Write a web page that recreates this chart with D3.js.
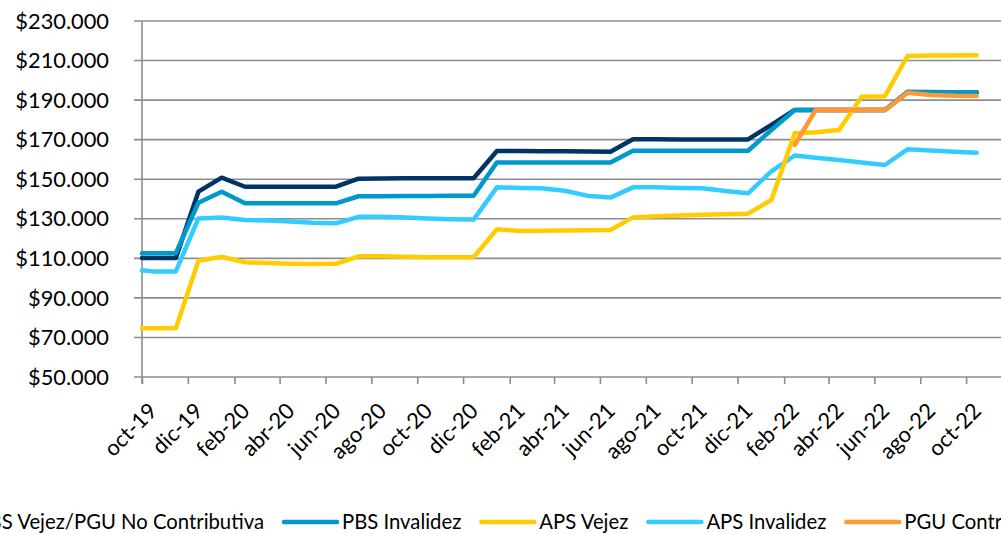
<!DOCTYPE html>
<html>
<head>
<meta charset="utf-8">
<script src="https://cdn.jsdelivr.net/npm/d3@7"></script>
<style>
body { margin: 0; background: #fff; overflow: hidden; }
svg text { font-family: Lato, "Open Sans", sans-serif; fill: #000; }
</style>
</head>
<body>
<script>
const width = 1001, height = 534;

// first point sits on 1 oct 2019, then one point per month (mid-month), oct-19 .. oct-22
const startDate = new Date(2019, 9, 1);
const monthStarts = d3.timeMonth.range(new Date(2019, 9, 1), new Date(2022, 10, 1));
const dates = [startDate].concat(monthStarts.map(d => d3.timeDay.offset(d, 14)));

// values in thousands of pesos
const pbsVejez = [110.2, 110.2, 110.2, 143.7, 150.8, 146.2, 146.2, 146.2, 146.2, 146.2,
  150.3, 150.4, 150.5, 150.5, 150.5, 150.5, 164.3, 164.3, 164.2, 164.1, 164.0, 163.9,
  170.2, 170.2, 170.1, 170.1, 170.1, 170.1, 177.5, 185.0, 185.0, 185.0, 185.0, 185.0,
  193.9, 193.9, 193.9, 193.9];
const pbsInvalidez = [112.6, 112.6, 112.6, 138.1, 143.7, 137.8, 137.8, 137.8, 137.8, 137.8,
  141.4, 141.4, 141.5, 141.5, 141.6, 141.6, 158.5, 158.5, 158.5, 158.5, 158.5, 158.5,
  164.4, 164.4, 164.4, 164.4, 164.4, 164.4, 174.9, 185.0, 185.0, 185.0, 185.0, 185.0,
  194.2, 194.1, 194.0, 194.0];
const apsVejez = [74.6, 74.6, 74.6, 108.8, 110.8, 108.0, 107.6, 107.3, 107.1, 107.2,
  111.0, 111.0, 110.8, 110.6, 110.6, 110.6, 124.7, 123.8, 124.0, 124.1, 124.2, 124.3,
  130.7, 131.3, 131.7, 132.0, 132.3, 132.6, 139.5, 173.2, 173.7, 174.9, 191.7, 192.0,
  212.3, 212.5, 212.6, 212.7];
const apsInvalidez = [104.0, 103.4, 103.4, 130.2, 130.7, 129.4, 129.1, 128.6, 128.0, 127.7,
  131.0, 131.0, 130.7, 130.2, 129.8, 129.6, 145.9, 145.6, 145.4, 144.2, 141.7, 140.7,
  145.9, 145.9, 145.6, 145.4, 144.1, 142.9, 154.0, 162.0, 160.9, 159.7, 158.5, 157.2,
  165.1, 164.5, 163.9, 163.4];
const pguContributiva = [null, null, null, null, null, null, null, null, null, null,
  null, null, null, null, null, null, null, null, null, null, null, null,
  null, null, null, null, null, null, null, 167.3, 185.0, 185.0, 185.0, 185.0,
  193.7, 192.6, 192.2, 192.1];

const seriesNames = ["PBS Vejez/PGU No Contributiva", "PBS Invalidez", "APS Vejez", "APS Invalidez", "PGU Contributiva"];
const seriesColors = ["#003366", "#0099CC", "#FFCC00", "#33CCFF", "#FF9933"];
const seriesValues = [pbsVejez, pbsInvalidez, apsVejez, apsInvalidez, pguContributiva];
const drawOrder = [0, 1, 3, 2, 4];

const yTicks = [50, 70, 90, 110, 130, 150, 170, 190, 210, 230];
const monthAbbr = ["ene", "feb", "mar", "abr", "may", "jun", "jul", "ago", "sep", "oct", "nov", "dic"];
const xTickDates = d3.timeMonth.range(new Date(2019, 9, 1), new Date(2022, 10, 2), 2);
const xTickLabels = xTickDates.map(d => monthAbbr[d.getMonth()] + "-" + String(d.getFullYear()).slice(2));

const svg = d3.select("body").append("svg")
    .attr("width", width)
    .attr("height", height);

const x = d3.scaleTime()
    .domain([new Date(2019, 9, 1), new Date(2022, 11, 1)])
    .range([142, 1012]);
const y = d3.scaleLinear()
    .domain([50, 230])
    .range([377, 21]);

const gridColor = "#8c8c8c";

// horizontal gridlines (with the small tick to the left of the axis)
svg.append("g")
    .selectAll("line")
    .data(yTicks)
    .enter().append("line")
    .attr("x1", 134)
    .attr("x2", width)
    .attr("y1", d => y(d))
    .attr("y2", d => y(d))
    .attr("stroke", gridColor)
    .attr("stroke-width", 1.6);

// y axis line
svg.append("line")
    .attr("x1", x(startDate)).attr("x2", x(startDate))
    .attr("y1", y(230)).attr("y2", y(50) + 7)
    .attr("stroke", gridColor)
    .attr("stroke-width", 1.6);

// y labels
svg.append("g")
    .selectAll("text")
    .data(yTicks)
    .enter().append("text")
    .attr("x", 109)
    .attr("y", d => y(d))
    .attr("dy", "0.35em")
    .attr("text-anchor", "end")
    .style("font-size", "21.8px")
    .text(d => "$" + d + ".000");

// x ticks
const xAxis = d3.axisBottom(x)
    .tickValues(xTickDates)
    .tickSize(7)
    .tickSizeOuter(0)
    .tickFormat("");
const xg = svg.append("g")
    .attr("transform", `translate(0,${y(50)})`)
    .call(xAxis);
xg.select(".domain").remove();
xg.selectAll(".tick line").attr("stroke", gridColor).attr("stroke-width", 1.6);

// rotated x labels
svg.append("g")
    .selectAll("text")
    .data(xTickDates)
    .enter().append("text")
    .attr("transform", d => `translate(${x(d) + 11},407) rotate(-45)`)
    .attr("dy", "0.35em")
    .attr("text-anchor", "end")
    .style("font-size", "21.8px")
    .text((d, i) => xTickLabels[i]);

// series lines
const line = d3.line()
    .defined(d => d.v !== null)
    .x(d => x(d.date))
    .y(d => y(d.v));

drawOrder.forEach(s => {
    const pts = dates.map((d, i) => ({ date: d, v: seriesValues[s][i] }));
    svg.append("path")
        .datum(pts)
        .attr("d", line)
        .attr("fill", "none")
        .attr("stroke", seriesColors[s])
        .attr("stroke-width", 4.5)
        .attr("stroke-linejoin", "round")
        .attr("stroke-linecap", "round");
});

// legend
const legendY = 522;
const legend = svg.append("g");
const items = seriesNames.map((name, i) => {
    const g = legend.append("g");
    g.append("line")
        .attr("x1", 0).attr("x2", 53)
        .attr("y1", legendY).attr("y2", legendY)
        .attr("stroke", seriesColors[i])
        .attr("stroke-width", 4.5)
        .attr("stroke-linecap", "round");
    const t = g.append("text")
        .attr("x", 58)
        .attr("y", legendY)
        .attr("dy", "0.35em")
        .style("font-size", "20.3px")
        .text(name);
    return { g, w: t.node().getComputedTextLength() };
});
let lx = 264 - items[0].w - 58;
items.forEach(it => {
    it.g.attr("transform", `translate(${lx},0)`);
    lx += 58 + it.w + 20;
});
</script>
</body>
</html>
